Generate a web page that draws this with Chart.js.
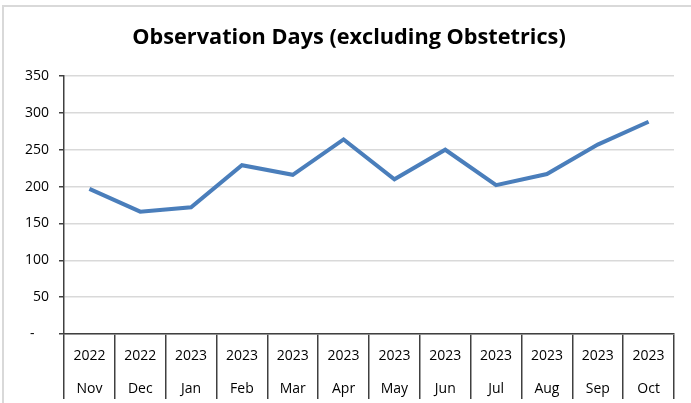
<!DOCTYPE html>
<html>
<head>
<meta charset="utf-8">
<script src="https://cdn.jsdelivr.net/npm/chart.js@4.4.0/dist/chart.umd.min.js"></script>
<style>
  html, body { margin: 0; padding: 0; background: #fff; overflow: hidden; }
  #wrap { position: relative; width: 691px; height: 403px; }
  #frame { position: absolute; left: 2px; top: 5px; width: 720px; height: 420px; border: 2px solid #d9d9d9; box-sizing: border-box; }
  canvas { position: absolute; left: 0; top: 0; }
</style>
</head>
<body>
<div id="wrap">
  <div id="frame"></div>
  <canvas id="chart" width="691" height="403"></canvas>
</div>
<script>
const years = ['2022', '2022', '2023', '2023', '2023', '2023', '2023', '2023', '2023', '2023', '2023', '2023']
const months = ['Nov', 'Dec', 'Jan', 'Feb', 'Mar', 'Apr', 'May', 'Jun', 'Jul', 'Aug', 'Sep', 'Oct']
const observationDays = [197, 166, 172, 229, 216, 264, 210, 250, 202, 217, 257, 288]
const yTicks = [0, 50, 100, 150, 200, 250, 300, 350]

const labelFont = { family: '"Open Sans", "Liberation Sans", sans-serif', size: 14 }
const axisColor = '#404040'

const ctx = document.getElementById('chart').getContext('2d')

new Chart(ctx, {
  type: 'line',
  data: {
    labels: years.map((y, i) => [y, months[i]]),
    datasets: [
      {
        label: 'Observation Days',
        data: observationDays,
        borderColor: '#4a7ebb',
        borderWidth: 4,
        pointRadius: 0,
        tension: 0,
        fill: false
      }
    ]
  },
  options: {
    responsive: false,
    animation: false,
    // left padding + narrower y box keeps the plot at x=64 but centres the title like Excel
    layout: {
      padding: { left: 24, right: 17, top: 10, bottom: 0 }
    },
    plugins: {
      legend: { display: false },
      tooltip: { enabled: false },
      title: {
        display: true,
        text: 'Observation Days (excluding Obstetrics)',
        color: '#000',
        font: { family: '"Open Sans", sans-serif', size: 21.7, weight: 'bold', lineHeight: 1.2 },
        padding: { top: 15, bottom: 25 }
      }
    },
    scales: {
      x: {
        offset: true,
        grid: {
          offset: true,
          drawOnChartArea: false,
          drawTicks: true,
          tickLength: 65,
          tickColor: axisColor,
          lineWidth: 1.5
        },
        border: { display: true, color: axisColor, width: 1.5 },
        ticks: {
          color: '#000',
          font: { ...labelFont, lineHeight: '33px' },
          padding: -59,
          maxRotation: 0,
          autoSkip: false
        },
        afterFit: (scale) => { scale.height = 69 }
      },
      y: {
        min: 0,
        max: 350,
        afterBuildTicks: (scale) => { scale.ticks = yTicks.map(v => ({ value: v })) },
        grid: {
          color: '#d9d9d9',
          lineWidth: 1.5,
          tickLength: 5,
          tickColor: axisColor
        },
        border: { display: true, color: axisColor, width: 1.5 },
        ticks: {
          color: '#000',
          font: labelFont,
          padding: 10,
          callback: (value) => value === 0 ? '-    ' : value
        },
        afterFit: (scale) => { scale.width = 40 }
      }
    }
  }
})
</script>
</body>
</html>
